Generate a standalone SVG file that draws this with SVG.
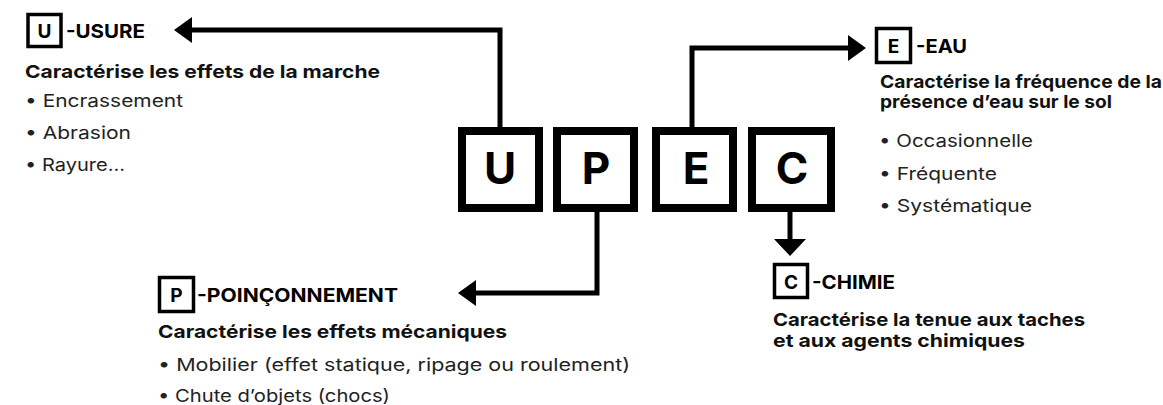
<svg xmlns="http://www.w3.org/2000/svg" width="1163" height="405" viewBox="0 0 1163 405">
<style>
.big{fill:#fff;stroke:#000;stroke-width:8}
.bigt{font-family:Inter,"Liberation Sans",sans-serif;font-weight:700;font-size:44px;fill:#000;text-anchor:middle}
.sm{fill:#fff;stroke:#000;stroke-width:3.5}
.smt{font-family:Inter,"Liberation Sans",sans-serif;font-weight:700;font-size:19px;fill:#000;text-anchor:middle}
.hd{font-family:Inter,"Liberation Sans",sans-serif;font-weight:700;font-size:19px;fill:#000}
.sub{font-family:Inter,"Liberation Sans",sans-serif;font-weight:700;font-size:18px;fill:#111}
.li{font-family:Inter,"Liberation Sans",sans-serif;font-weight:400;font-size:17.5px;fill:#222}
.ln{fill:none;stroke:#000;stroke-width:5;stroke-linejoin:miter}
.ah{fill:#000}
</style>
<rect width="1163" height="405" fill="#fff"/>
<g id="connectors">
<polyline class="ln" points="500,127 500,30 190,30"/>
<polygon class="ah" points="174,30 192,17 192,43"/>
<polyline class="ln" points="692,127 692,48 850,48"/>
<polygon class="ah" points="866,48 848,35 848,61"/>
<polyline class="ln" points="597,211 597,293 473,293"/>
<polygon class="ah" points="458,293 476,280 476,306"/>
<polyline class="ln" points="790,211 790,241"/>
<polygon class="ah" points="790,256 774,239 806,239"/>
</g>
<g id="node-U">
<rect class="big" x="462" y="131" width="77" height="77"/>
<text class="bigt" x="500" y="184">U</text>
</g>
<g id="node-P">
<rect class="big" x="557" y="131" width="77" height="77"/>
<text class="bigt" x="596" y="184">P</text>
</g>
<g id="node-E">
<rect class="big" x="656" y="131" width="77" height="77"/>
<text class="bigt" x="696" y="184">E</text>
</g>
<g id="node-C">
<rect class="big" x="752" y="131" width="79" height="77"/>
<text class="bigt" x="792" y="184">C</text>
</g>
<g id="usure">
<rect class="sm" x="28" y="14.5" width="33" height="32"/>
<text class="smt" x="44.5" y="37.5">U</text>
<text class="hd" x="66" y="37.5" textLength="79" lengthAdjust="spacingAndGlyphs">-USURE</text>
<text class="sub" x="25" y="78" textLength="355" lengthAdjust="spacingAndGlyphs">Caractérise les effets de la marche</text>
<text class="li" x="25" y="107" textLength="158" lengthAdjust="spacingAndGlyphs">• Encrassement</text>
<text class="li" x="25" y="139" textLength="106" lengthAdjust="spacingAndGlyphs">• Abrasion</text>
<text class="li" x="25" y="171" textLength="100" lengthAdjust="spacingAndGlyphs">• Rayure…</text>
</g>
<g id="eau">
<rect class="sm" x="876.5" y="28.5" width="34" height="34"/>
<text class="smt" x="893.5" y="52.5">E</text>
<text class="hd" x="916" y="52.5" textLength="51" lengthAdjust="spacingAndGlyphs">-EAU</text>
<text class="sub" x="880" y="88" textLength="282" lengthAdjust="spacingAndGlyphs">Caractérise la fréquence de la</text>
<text class="sub" x="880" y="108" textLength="232" lengthAdjust="spacingAndGlyphs">présence d’eau sur le sol</text>
<text class="li" x="879" y="147" textLength="154" lengthAdjust="spacingAndGlyphs">• Occasionnelle</text>
<text class="li" x="879" y="180" textLength="118" lengthAdjust="spacingAndGlyphs">• Fréquente</text>
<text class="li" x="879" y="212" textLength="153" lengthAdjust="spacingAndGlyphs">• Systématique</text>
</g>
<g id="poinconnement">
<rect class="sm" x="159.5" y="277.5" width="34" height="34"/>
<text class="smt" x="176.5" y="301.5">P</text>
<text class="hd" x="197" y="301.5" textLength="201" lengthAdjust="spacingAndGlyphs">-POINÇONNEMENT</text>
<text class="sub" x="158" y="338" textLength="349" lengthAdjust="spacingAndGlyphs">Caractérise les effets mécaniques</text>
<text class="li" x="158" y="371" textLength="472" lengthAdjust="spacingAndGlyphs">• Mobilier (effet statique, ripage ou roulement)</text>
<text class="li" x="158" y="402" textLength="232" lengthAdjust="spacingAndGlyphs">• Chute d’objets (chocs)</text>
</g>
<g id="chimie">
<rect class="sm" x="774.5" y="264.5" width="33" height="33"/>
<text class="smt" x="791" y="288.5">C</text>
<text class="hd" x="812" y="288.5" textLength="83" lengthAdjust="spacingAndGlyphs">-CHIMIE</text>
<text class="sub" x="773" y="326" textLength="312" lengthAdjust="spacingAndGlyphs">Caractérise la tenue aux taches</text>
<text class="sub" x="773" y="347" textLength="252" lengthAdjust="spacingAndGlyphs">et aux agents chimiques</text>
</g>
</svg>
